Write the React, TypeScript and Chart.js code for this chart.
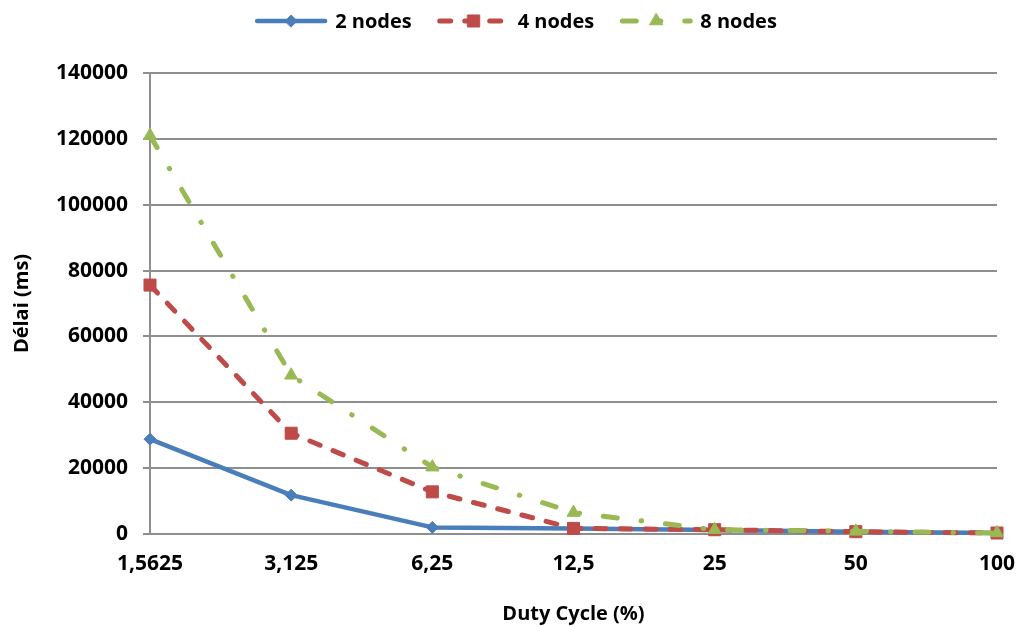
import React, { useEffect, useRef } from "react";
import { Chart, registerables } from "chart.js";
import { drawPoint } from "chart.js/helpers";

Chart.register(...registerables);

const categories = ["1,5625", "3,125", "6,25", "12,5", "25", "50", "100"];
const seriesLabels = ["2 nodes", "4 nodes", "8 nodes"];
const twoNodes = [28800, 11800, 2000, 1700, 1200, 700, 300];
const fourNodes = [75600, 30600, 12800, 1700, 1300, 700, 300];
const eightNodes = [121000, 48200, 20300, 6500, 1300, 800, 300];
const yMin = 0;
const yMax = 140000;
const yStep = 20000;
const xTitle = "Duty Cycle (%)";
const yTitle = "Délai (ms)";

const FONT = '"Open Sans", sans-serif';
const BLUE = "#4A7EBB";
const RED = "#BE4B48";
const GREEN = "#98B954";
const GRID = "#8e8e8e";

const legendPlugin = {
  id: "lineLegend",
  afterDraw(chart: any) {
    const ctx = chart.ctx as CanvasRenderingContext2D;
    const datasets = chart.data.datasets as any[];
    const lineLen = 68;
    const textGap = 10;
    const itemGap = 28;
    const centerX = 517;
    const centerY = 22;
    ctx.save();
    ctx.font = `bold 20px ${FONT}`;
    const widths = datasets.map((ds) => lineLen + textGap + ctx.measureText(ds.label).width);
    const total = widths.reduce((a, b) => a + b, 0) + itemGap * (datasets.length - 1);
    let x = centerX - total / 2;
    datasets.forEach((ds, i) => {
      ctx.save();
      ctx.strokeStyle = ds.borderColor;
      ctx.lineWidth = ds.borderWidth;
      ctx.lineCap = ds.borderCapStyle || "butt";
      ctx.setLineDash(ds.borderDash || []);
      ctx.beginPath();
      ctx.moveTo(x, centerY - 1);
      ctx.lineTo(x + lineLen, centerY - 1);
      ctx.stroke();
      ctx.setLineDash([]);
      ctx.fillStyle = ds.pointBackgroundColor;
      ctx.strokeStyle = ds.pointBorderColor;
      ctx.lineWidth = ds.pointBorderWidth;
      drawPoint(
        ctx,
        { pointStyle: ds.pointStyle, radius: ds.pointRadius, borderWidth: ds.pointBorderWidth, rotation: 0 } as any,
        x + lineLen / 2,
        centerY - 1
      );
      ctx.restore();
      ctx.fillStyle = "#000";
      ctx.textBaseline = "middle";
      ctx.textAlign = "left";
      ctx.fillText(ds.label, x + lineLen + textGap, centerY);
      x += widths[i] + itemGap;
    });
    ctx.restore();
  },
};

export default function App() {
  const ref = useRef<HTMLCanvasElement>(null);

  useEffect(() => {
    const canvas = ref.current!;
    const common = {
      fill: false,
      tension: 0,
      borderCapStyle: "round",
      borderJoinStyle: "round",
      pointBorderWidth: 1,
      clip: false as any,
    };
    const chart = new Chart(canvas, {
      type: "line",
      data: {
        labels: categories,
        datasets: [
          {
            ...common,
            label: seriesLabels[0],
            data: twoNodes,
            borderColor: BLUE,
            backgroundColor: BLUE,
            pointBackgroundColor: BLUE,
            pointBorderColor: BLUE,
            borderWidth: 4.5,
            borderDash: [],
            pointStyle: "rectRot",
            pointRadius: 6,
            order: 3,
          },
          {
            ...common,
            label: seriesLabels[1],
            data: fourNodes,
            borderColor: RED,
            backgroundColor: RED,
            pointBackgroundColor: RED,
            pointBorderColor: RED,
            borderWidth: 5,
            borderDash: [11, 14],
            pointStyle: "rect",
            pointRadius: 8.5,
            order: 2,
          },
          {
            ...common,
            label: seriesLabels[2],
            data: eightNodes,
            borderColor: GREEN,
            backgroundColor: GREEN,
            pointBackgroundColor: GREEN,
            pointBorderColor: GREEN,
            borderWidth: 5,
            borderDash: [14, 24, 0.5, 24],
            pointStyle: "triangle",
            pointRadius: 7.5,
            order: 1,
          },
        ] as any,
      },
      options: {
        responsive: false,
        animation: false,
        events: [],
        layout: { padding: { top: 73, right: 20, left: 0, bottom: 0 } },
        plugins: {
          legend: { display: false },
          tooltip: { enabled: false },
        },
        scales: {
          x: {
            type: "category",
            offset: false,
            grid: { display: false, drawTicks: false },
            border: { display: true, color: GRID, width: 2 },
            ticks: {
              color: "#000",
              font: { family: FONT, size: 21, weight: "bold" },
              padding: 17,
              maxRotation: 0,
              autoSkip: false,
            },
            title: {
              display: true,
              text: xTitle,
              color: "#000",
              font: { family: FONT, size: 20, weight: "bold" },
              padding: { top: 0, bottom: 1 },
            },
            afterFit(scale: any) {
              scale.height = 93;
              scale.paddingLeft = 0;
              scale.paddingRight = 0;
            },
          },
          y: {
            min: yMin,
            max: yMax,
            grid: { color: GRID, lineWidth: 2, drawTicks: true, tickLength: 7 },
            border: { display: true, color: GRID, width: 2 },
            ticks: {
              stepSize: yStep,
              color: "#000",
              font: { family: FONT, size: 21, weight: "bold" },
              padding: 15,
              callback: (v: any) => String(v),
            },
            title: {
              display: true,
              text: yTitle,
              color: "#000",
              font: { family: FONT, size: 20, weight: "bold" },
              padding: { top: 10, bottom: 0 },
            },
            afterFit(scale: any) {
              scale.width = 150;
            },
          },
        },
      } as any,
      plugins: [legendPlugin],
    });
    return () => chart.destroy();
  }, []);

  return (
    <div style={{ position: "fixed", left: 0, top: 0, width: 1017, height: 627, background: "#fff" }}>
      <canvas ref={ref} width={1017} height={627} style={{ display: "block" }} />
    </div>
  );
}
